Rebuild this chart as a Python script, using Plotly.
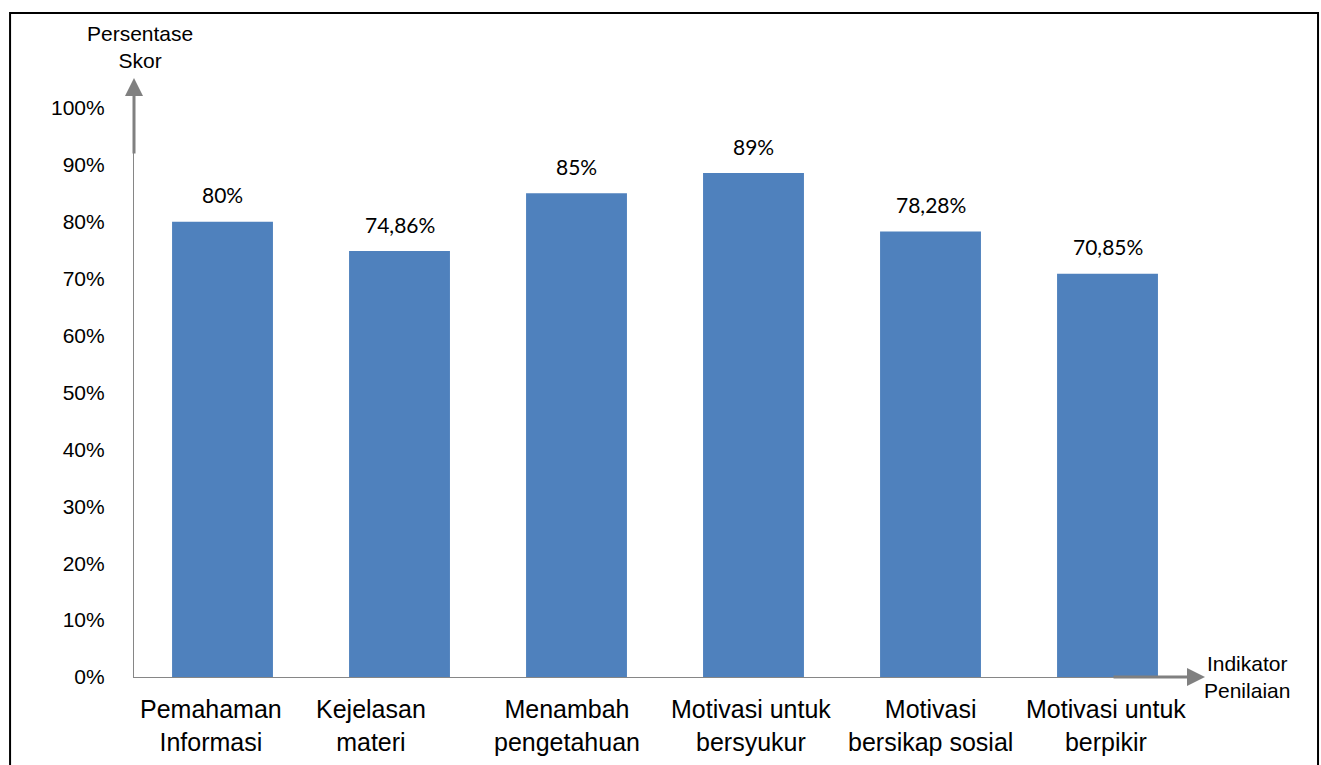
import plotly.graph_objects as go

categories = ["Pemahaman<br>Informasi", "Kejelasan<br>materi", "Menambah<br>pengetahuan",
              "Motivasi untuk<br>bersyukur", "Motivasi<br>bersikap sosial", "Motivasi untuk<br>berpikir"]
values = [80, 74.86, 85, 88.57, 78.28, 70.85]
value_labels = ["80%", "74,86%", "85%", "89%", "78,28%", "70,85%"]
y_ticks = list(range(0, 101, 10))
y_tick_text = [f"{v}%" for v in y_ticks]
label_shift_px = [-12, -29, -10, -3, 0, -2]

idx = list(range(len(categories)))

fig = go.Figure()
fig.add_trace(go.Bar(x=idx, y=values, marker=dict(color="#4F81BD", line=dict(width=0)),
                     width=0.57, hoverinfo="skip"))

for i, v, t in zip(idx, values, value_labels):
    fig.add_annotation(x=i, y=v, xref="x", yref="y", text=t, showarrow=False,
                       yshift=27, font=dict(family="Lato, Carlito, sans-serif", size=21, color="black"))

# category labels
for i, c, s in zip(idx, categories, label_shift_px):
    fig.add_annotation(x=i, y=0, xref="x", yref="paper", text=c, showarrow=False,
                       xshift=s, yshift=-16, yanchor="top", xanchor="center",
                       font=dict(family="Liberation Sans, Arial", size=25, color="black"))

# axis arrows
fig.add_annotation(x=0, y=1.0527, xref="paper", yref="paper", ax=0, ay=77, text="", showarrow=True,
                   arrowhead=2, arrowsize=1.2, arrowwidth=3, arrowcolor="#808080")
fig.add_annotation(x=1.0085, y=0, xref="paper", yref="paper", ax=-93, ay=0, text="", showarrow=True,
                   arrowhead=2, arrowsize=1.2, arrowwidth=3, arrowcolor="#808080")

# axis titles
fig.add_annotation(x=0.006, y=1.0, xref="paper", yref="paper", text="Persentase<br>Skor", showarrow=False,
                   yshift=61, xanchor="center", yanchor="middle",
                   font=dict(family="Liberation Sans, Arial", size=21, color="black"))
fig.add_annotation(x=1.0085, y=0, xref="paper", yref="paper", text="Indikator<br>Penilaian", showarrow=False,
                   xshift=-3, xanchor="left", yanchor="middle",
                   font=dict(family="Liberation Sans, Arial", size=21, color="black"))

# outer border
fig.add_shape(type="rect", xref="paper", yref="paper", x0=-0.1167, x1=1.1149, y0=-0.17, y1=1.1670,
              line=dict(color="black", width=2), fillcolor="rgba(0,0,0,0)")

fig.update_layout(
    width=1321, height=765,
    margin=dict(l=134, r=125, t=108, b=88),
    plot_bgcolor="white", paper_bgcolor="white",
    showlegend=False,
    xaxis=dict(range=[-0.5, 5.5], showticklabels=False,
               showline=True, linecolor="#868686", linewidth=1.2, showgrid=False, zeroline=False,
               ticks=""),
    yaxis=dict(range=[0, 100], tickmode="array", tickvals=y_ticks, ticktext=y_tick_text,
               showline=True, linecolor="#868686", linewidth=1.2, showgrid=False, zeroline=False,
               ticks="", tickfont=dict(family="Liberation Sans, Arial", size=21, color="black"),
               ticklabelstandoff=24),
)

fig.write_html("out.html")
